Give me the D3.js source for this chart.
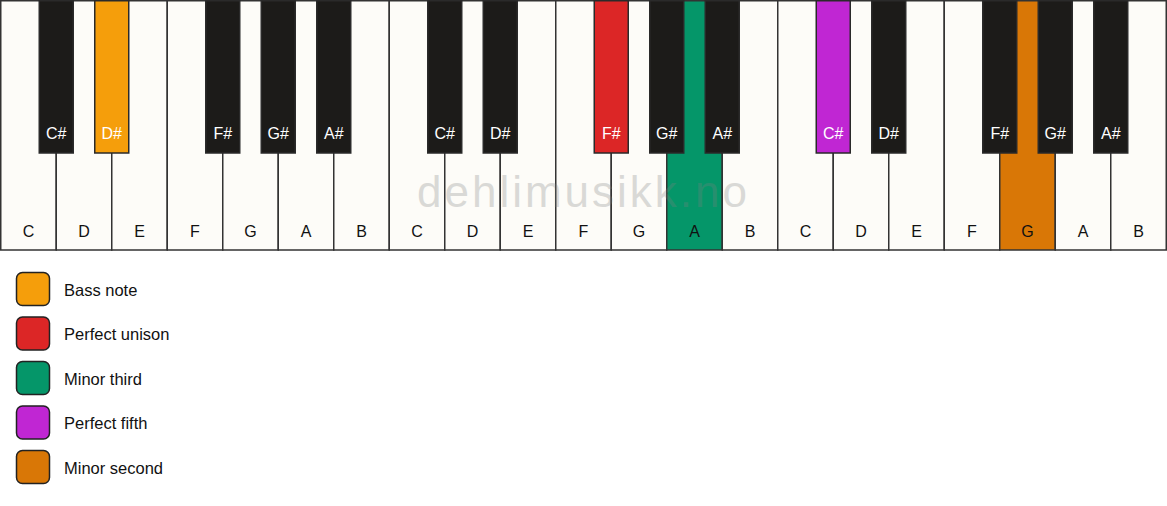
<!DOCTYPE html>
<html>
<head>
<meta charset="utf-8">
<script src="https://cdn.jsdelivr.net/npm/d3@7"></script>
<style>
    body { margin: 0; background: #fff; }
    svg text { font-family: "Liberation Sans", Arial, sans-serif; }
</style>
</head>
<body>
<div id="piano"></div>
<script>
// keyboard layout
const whiteNotes = ['C', 'D', 'E', 'F', 'G', 'A', 'B'];
const blackNotes = ['C#', 'D#', 'F#', 'G#', 'A#'];
const blackAfter = [0, 1, 3, 4, 5];   // index of the white key each black key follows
const octaves = [0, 1, 2];

// highlighted notes and their roles
const highlightNotes = ['D#', 'F#', 'A', 'C#', 'G'];
const highlightOctaves = [0, 1, 1, 2, 2];
const legendLabels = ['Bass note', 'Perfect unison', 'Minor third', 'Perfect fifth', 'Minor second'];
const legendColors = ['#F59E0B', '#DC2626', '#059669', '#C026D3', '#D97706'];

const watermark = 'dehlimusikk.no';

(function () {
    var width = 1167, height = 506;
    var keyTop = 0, whiteHeight = 250, blackHeight = 153, blackWidth = 34;

    var whiteKeys = [];
    octaves.forEach(o => whiteNotes.forEach((n, i) => whiteKeys.push({ note: n, octave: o, idx: o * 7 + i })));
    var blackKeys = [];
    octaves.forEach(o => blackNotes.forEach((n, i) => blackKeys.push({ note: n, octave: o, idx: o * 7 + blackAfter[i] })));

    function highlightColor(d) {
        for (var i = 0; i < highlightNotes.length; i++) {
            if (highlightNotes[i] == d.note && highlightOctaves[i] == d.octave) return legendColors[i];
        }
        return null;
    }

    var xScale = d3
        .scaleBand()
        .domain(d3.range(whiteKeys.length))
        .range([0.75, width - 0.75]);

    var svg = d3
        .select("#piano")
        .append("svg")
        .attr("width", width)
        .attr("height", height);

    // white keys
    var white = svg.append('g')
        .selectAll('g')
        .data(whiteKeys)
        .enter()
        .append('g');

    white.append('rect')
        .attr('x', d => xScale(d.idx))
        .attr('y', keyTop + 0.75)
        .attr('width', xScale.bandwidth())
        .attr('height', whiteHeight - 0.75)
        .attr('fill', d => highlightColor(d) || '#FDFCF8')
        .attr('stroke', '#333')
        .attr('stroke-width', 1.5);

    white.append('text')
        .attr('x', d => xScale(d.idx) + xScale.bandwidth() / 2)
        .attr('y', 237)
        .attr('text-anchor', 'middle')
        .attr('font-size', 16)
        .attr('fill', '#111')
        .text(d => d.note);

    // black keys
    var black = svg.append('g')
        .selectAll('g')
        .data(blackKeys)
        .enter()
        .append('g');

    black.append('rect')
        .attr('x', d => xScale(d.idx) + xScale.bandwidth() - blackWidth / 2)
        .attr('y', keyTop + 0.75)
        .attr('width', blackWidth)
        .attr('height', blackHeight - 0.75)
        .attr('fill', d => highlightColor(d) || '#1C1B19')
        .attr('stroke', '#2a2a2a')
        .attr('stroke-width', 1.5);

    black.append('text')
        .attr('x', d => xScale(d.idx) + xScale.bandwidth())
        .attr('y', 139)
        .attr('text-anchor', 'middle')
        .attr('font-size', 16)
        .attr('fill', '#fff')
        .text(d => d.note);

    // watermark on top
    svg.append('text')
        .attr('x', width / 2)
        .attr('y', 207)
        .attr('text-anchor', 'middle')
        .attr('font-size', 44)
        .attr('letter-spacing', 3)
        .attr('fill', '#808080')
        .attr('opacity', 0.28)
        .text(watermark);

    // legend
    var legendY = d3.scaleLinear().domain([0, 1]).range([289, 333.5]);

    var legend = svg.append('g')
        .selectAll('g')
        .data(legendLabels)
        .enter()
        .append('g')
        .attr('transform', (d, i) => `translate(0, ${legendY(i)})`);

    legend.append('rect')
        .attr('x', 16.5)
        .attr('y', -16.5)
        .attr('width', 33)
        .attr('height', 33)
        .attr('rx', 6)
        .attr('fill', (d, i) => legendColors[i])
        .attr('stroke', '#222')
        .attr('stroke-width', 1.5);

    legend.append('text')
        .attr('x', 64)
        .attr('y', 6.5)
        .attr('font-size', 16.5)
        .attr('fill', '#111')
        .text(d => d);
})();
</script>
</body>
</html>
